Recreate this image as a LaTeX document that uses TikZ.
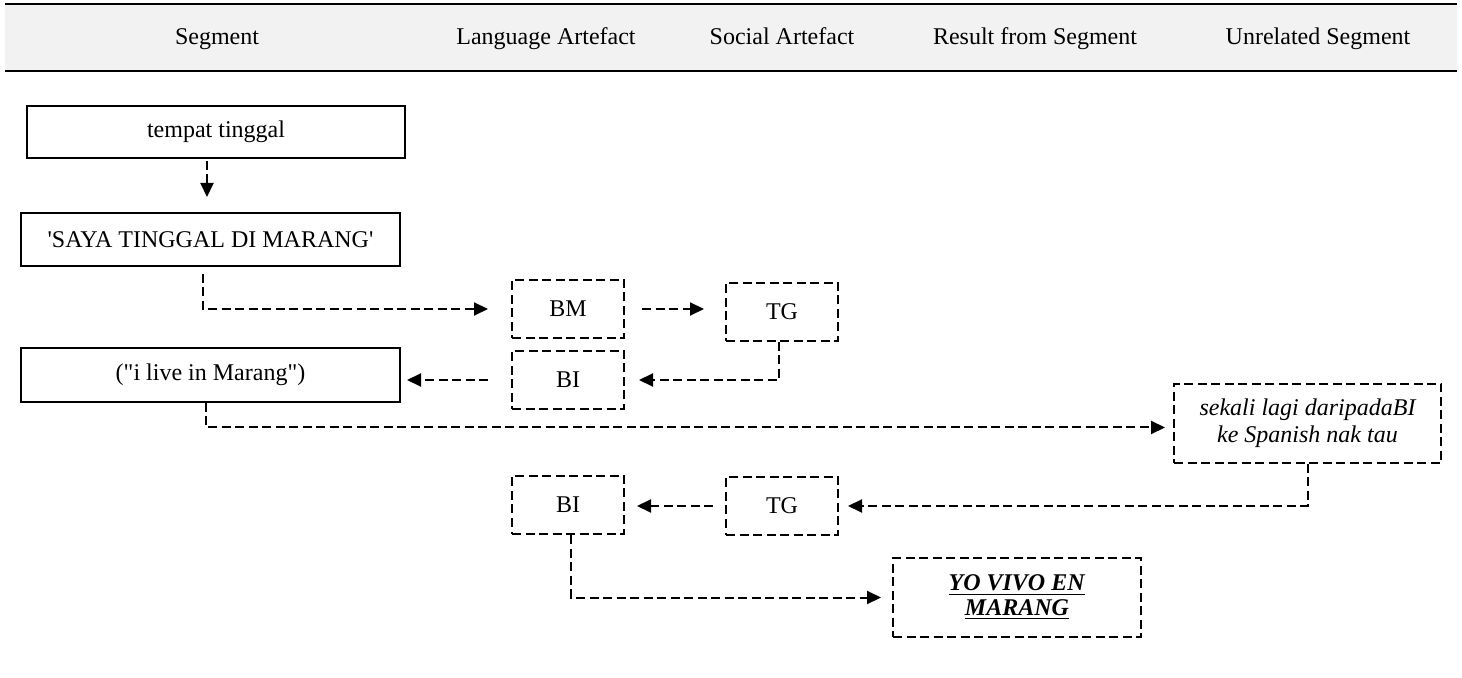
\documentclass[tikz,border=0pt]{standalone}
\usepackage{fontspec}
\setmainfont{Liberation Serif}[Ligatures=TeXOff]
\usetikzlibrary{arrows.meta}
\definecolor{hdrgray}{HTML}{F2F2F2}
\begin{document}
\begin{tikzpicture}[x=0.5pt,y=-0.5pt,
  font=\fontsize{12pt}{13.5pt}\selectfont,
  hdr/.style={anchor=base},
  solidbox/.style={draw,line width=1pt,inner sep=0pt,align=center},
  dashbox/.style={draw,line width=1pt,dash pattern=on 4.5pt off 2.25pt,inner sep=0pt,align=center},
  flow/.style={line width=1pt,dash pattern=on 4.5pt off 2.25pt,-{Triangle[length=7pt,width=6.5pt]}}]
\useasboundingbox (0,0) rectangle (1462,678);
% header band
\fill[hdrgray] (5,4) rectangle (1457,71);
\draw[line width=1.4pt] (5,4) -- (1457,4);
\draw[line width=1.4pt] (5,71) -- (1457,71);
\node (segH) at (217,45) [hdr] {Segment};
\node (langH) at (546,45) [hdr] {Language Artefact};
\node (socH) at (782,45) [hdr] {Social Artefact};
\node (resH) at (1035,45) [hdr] {Result from Segment};
\node (unrH) at (1318,45) [hdr] {Unrelated Segment};
% segment boxes
\node (tempat) at (216,132) [solidbox,minimum width=189pt,minimum height=26pt] {tempat tinggal};
\node (saya) at (210.5,239.5) [solidbox,minimum width=189.5pt,minimum height=26.5pt] {'SAYA TINGGAL DI MARANG'};
\node (ilive) at (210.5,375) [solidbox,minimum width=189.5pt,minimum height=27pt] {("i live in Marang")};
% artefacts
\node (bm) at (568,309) [dashbox,minimum width=56pt,minimum height=29pt] {BM};
\node (tg) at (782,312) [dashbox,minimum width=56pt,minimum height=29pt] {TG};
\node (bi) at (568,380) [dashbox,minimum width=56pt,minimum height=29pt] {BI};
\node (sekali) at (1307.5,423.5) [dashbox,minimum width=133.5pt,minimum height=39.5pt] {\itshape sekali lagi daripadaBI\\\itshape ke Spanish nak tau};
\node (bi2) at (568,505) [dashbox,minimum width=56pt,minimum height=29pt] {BI};
\node (tg2) at (782,506) [dashbox,minimum width=56pt,minimum height=29pt] {TG};
\node (yo) at (1017,597.5) [dashbox,minimum width=124pt,minimum height=39.5pt,font=\fontsize{12pt}{12.5pt}\selectfont] {\underline{\textbf{\textit{YO VIVO EN}}}\\\underline{\textbf{\textit{MARANG}}}};
% connectors
\draw[flow,shorten <=1pt,shorten >=7.5pt] ([xshift=-4.5pt]tempat.south) -- ([xshift=-4.5pt]tempat.south |- saya.north);
\draw[flow,shorten <=3.5pt,shorten >=11.5pt] ([xshift=-4pt]saya.south) |- (bm.west);
\draw[flow,shorten <=8.5pt,shorten >=10.5pt] (bm.east) -- (bm.east -| tg.west);
\draw[flow,shorten >=7pt] ([xshift=-1.5pt]tg.south) |- (bi.east);
\draw[flow,shorten <=11.5pt,shorten >=3pt] (bi.west) -- (bi.west -| ilive.east);
\draw[flow,shorten >=4pt] ([xshift=-2.5pt]ilive.south) |- ([yshift=-2pt]sekali.west);
\draw[flow,shorten >=4.5pt] (sekali.south) |- (tg2.east);
\draw[flow,shorten <=6pt,shorten >=6pt] (tg2.west) -- (tg2.west -| bi2.east);
\draw[flow,shorten >=5.5pt] ([xshift=1.5pt]bi2.south) |- (yo.west);
\end{tikzpicture}
\end{document}
